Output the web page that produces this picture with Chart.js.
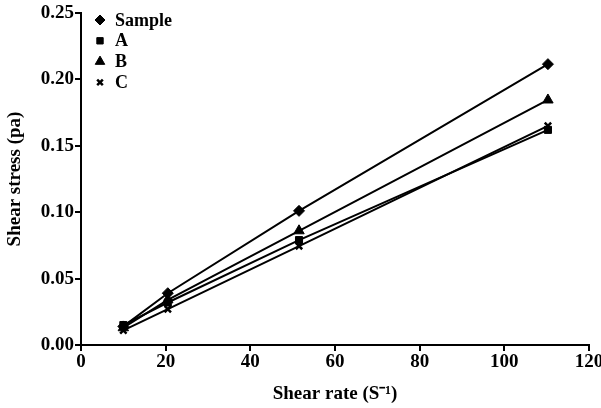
<!DOCTYPE html>
<html><head><meta charset="utf-8">
<script src="https://cdn.jsdelivr.net/npm/chart.js@4.4.0/dist/chart.umd.min.js"></script>
<style>html,body{margin:0;padding:0;background:#fff}#w{width:601px;height:408px}</style>
</head><body><div id="w"><canvas id="c" width="601" height="408"></canvas></div>
<script>
const shearRate = [10, 20.5, 51.5, 110.3];
const sampleVals = [0.014, 0.039, 0.101, 0.2115];
const aVals = [0.015, 0.032, 0.079, 0.162];
const bVals = [0.013, 0.034, 0.086, 0.1845];
const cVals = [0.011, 0.027, 0.0745, 0.165];
const seriesNames = ['Sample', 'A', 'B', 'C'];
const xTicks = [0, 20, 40, 60, 80, 100, 120];
const yTicks = [0, 0.05, 0.10, 0.15, 0.20, 0.25];

const styles = ['rectRot', 'rect', 'triangle', 'crossRot'];
const radii = [5.5, 5, 6, 4.5];
const allVals = [sampleVals, aVals, bVals, cVals];
const FONT = '"Liberation Serif", "Times New Roman", serif';

const datasets = allVals.map((vals, i) => ({
  label: seriesNames[i],
  data: shearRate.map((x, j) => ({x: x, y: vals[j]})),
  borderColor: '#000', backgroundColor: '#000',
  borderWidth: 2, pointStyle: styles[i], pointRadius: radii[i],
  pointBorderWidth: i === 3 ? 2.5 : 1, pointBorderColor: '#000', pointBackgroundColor: '#000',
  showLine: true, tension: 0
}));

const legendPlugin = {
  id: 'customLegend',
  afterDraw(chart) {
    const ctx = chart.ctx;
    ctx.save();
    ctx.fillStyle = '#000'; ctx.strokeStyle = '#000';
    ctx.font = 'bold 18px ' + FONT;
    ctx.textBaseline = 'middle';
    const x0 = 100, y0 = 20, dy = 20.8;
    seriesNames.forEach((n, i) => {
      const y = y0 + i * dy;
      ctx.lineWidth = i === 3 ? 2.5 : 1;
      Chart.helpers.drawPoint(ctx, {pointStyle: styles[i], radius: i === 3 ? 4 : radii[i] - 0.5, rotation: 0, borderWidth: ctx.lineWidth}, x0, y);
      ctx.fillText(n, x0 + 15, y + 1);
    });
    ctx.restore();
  }
};

new Chart(document.getElementById('c'), {
  type: 'scatter',
  data: {datasets},
  options: {
    responsive: false, animation: false,
    layout: {padding: {top: 13, right: 12, left: 0, bottom: 0}},
    plugins: {legend: {display: false}, tooltip: {enabled: false}},
    scales: {
      x: {
        type: 'linear', min: 0, max: 120,
        afterBuildTicks: s => { s.ticks = xTicks.map(v => ({value: v})); },
        grid: {drawOnChartArea: false, drawTicks: true, tickLength: 6, color: '#000', lineWidth: 2},
        border: {color: '#000', width: 2},
        ticks: {color: '#000', font: {family: FONT, size: 19, weight: 'bold'}, padding: 0, maxRotation: 0},
        title: {display: true, text: 'Shear rate (S\u207B\u00B9)', color: '#000', font: {family: FONT, size: 19, weight: 'bold'}, padding: {top: 4, bottom: 3}},
        afterFit: s => { s.height = 63; s.paddingRight = 0; s.paddingLeft = 0; }
      },
      y: {
        type: 'linear', min: 0, max: 0.25,
        afterBuildTicks: s => { s.ticks = yTicks.map(v => ({value: v})); },
        grid: {drawOnChartArea: false, drawTicks: true, tickLength: 6, color: '#000', lineWidth: 2},
        border: {color: '#000', width: 2},
        ticks: {color: '#000', font: {family: FONT, size: 19, weight: 'bold'}, padding: 1, callback: v => v.toFixed(2)},
        title: {display: true, text: 'Shear stress (pa)', color: '#000', font: {family: FONT, size: 19, weight: 'bold'}, padding: {top: 4, bottom: 2}},
        afterFit: s => { s.width = 81; s.paddingTop = 0; s.paddingBottom = 0; }
      }
    }
  },
  plugins: [legendPlugin]
});
</script></body></html>
